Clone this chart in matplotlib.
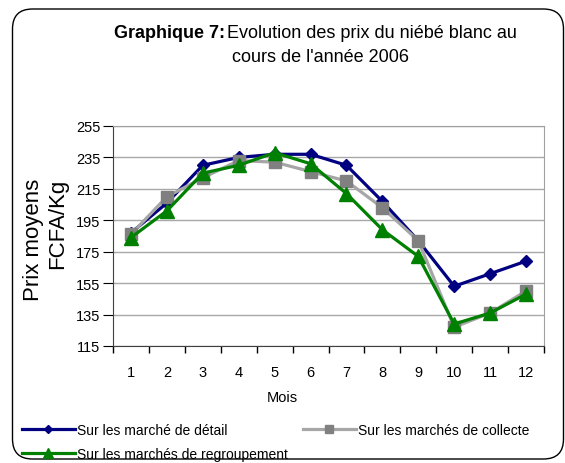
import matplotlib
matplotlib.use('Agg')
import matplotlib.pyplot as plt
import matplotlib.patches as mpatches

plt.rcParams['font.family'] = ['Liberation Sans', 'DejaVu Sans']

# données
mois = [1, 2, 3, 4, 5, 6, 7, 8, 9, 10, 11, 12]
prix_detail = [187, 206, 230, 235, 237, 237, 230, 207, 182, 153, 161, 169]
prix_collecte = [186, 210, 222, 233, 232, 226, 220, 203, 182, 127, 136, 150]
prix_regroupement = [184, 201, 225, 230, 238, 231, 212, 189, 172, 129, 136, 148]
y_ticks = [115, 135, 155, 175, 195, 215, 235, 255]
noms = ['Sur les marché de détail', 'Sur les marchés de collecte',
        'Sur les marchés de regroupement']

W, H = 565, 464
fig = plt.figure(figsize=(W / 100, H / 100), dpi=100)
ax = fig.add_axes([113 / W, 1 - 347 / H, 431 / W, 220 / H])

# cadre arrondi autour du graphique
cadre = mpatches.FancyBboxPatch((0.125, 0.04), 5.51, 4.50,
                                boxstyle='round,pad=0,rounding_size=0.2',
                                facecolor='none', edgecolor='black', linewidth=1.0,
                                transform=fig.dpi_scale_trans)
fig.patches.append(cadre)

l1, = ax.plot(mois, prix_detail, color='#000080', lw=2.3, marker='D', ms=6.5,
              label=noms[0], zorder=3)
l2, = ax.plot(mois, prix_collecte, color='#a6a6a6', lw=2.3, marker='s', ms=8,
              mfc='#808080', mec='#808080', label=noms[1], zorder=4)
l3, = ax.plot(mois, prix_regroupement, color='#008000', lw=2.3, marker='^', ms=10,
              label=noms[2], zorder=5)

ax.set_xlim(0.5, 12.5)
ax.set_ylim(115, 255)
ax.set_yticks(y_ticks)
ax.set_xticks(mois)
ax.set_xticks([m + 0.5 for m in [0] + mois], minor=True)
ax.tick_params(axis='x', which='major', length=0, pad=14, labelsize=10.5)
ax.tick_params(axis='x', which='minor', length=5, direction='out', width=1)
ax.tick_params(axis='y', length=7, direction='out', labelsize=10.5, pad=2)
ax.yaxis.grid(True, color='#a8a8a8', lw=1)
ax.set_axisbelow(True)
for s in ['top', 'right']:
    ax.spines[s].set_color('#a0a0a0')
for s in ['left', 'bottom']:
    ax.spines[s].set_color('#404040')

# titre
fig.text(225 / W, 1 - 33 / H, 'Graphique 7:', ha='right', va='center',
         fontsize=13, fontweight='bold')
fig.text(227 / W, 1 - 33 / H, 'Evolution des prix du niébé blanc au',
         ha='left', va='center', fontsize=13)
fig.text(321 / W, 1 - 57 / H, "cours de l'année 2006", ha='center',
         va='center', fontsize=13)

# titres des axes
fig.text(33 / W, 1 - 240 / H, 'Prix moyens', rotation=90, ha='center',
         va='center', fontsize=16)
fig.text(58 / W, 1 - 224 / H, 'FCFA/Kg', rotation=90, ha='center',
         va='center', fontsize=16)
fig.text(282 / W, 1 - 398 / H, 'Mois', ha='center', va='center', fontsize=10.5)

fig.legend([l1, l3, l2], [noms[0], noms[2], noms[1]], ncol=2,
           loc='upper left', bbox_to_anchor=(22 / W, 1 - 424 / H),
           frameon=False, fontsize=10, handlelength=3.8, handletextpad=0.15,
           columnspacing=1.1, labelspacing=0.7, borderpad=0, borderaxespad=0,
           markerscale=0.7)

fig.savefig('out.png', dpi=100)
